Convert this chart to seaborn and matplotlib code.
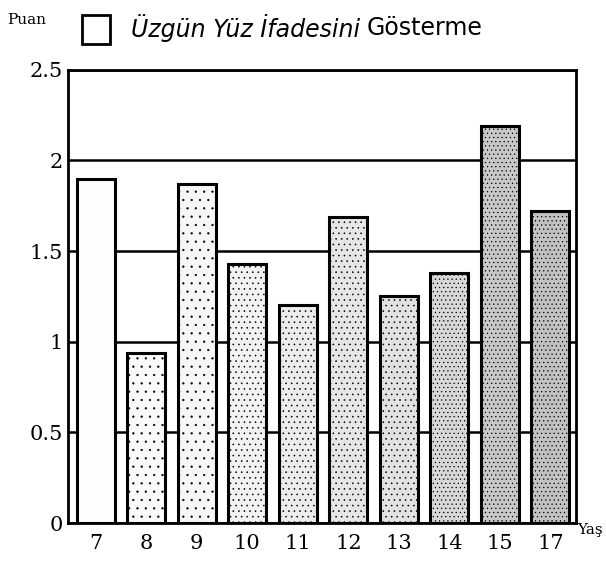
import matplotlib
matplotlib.use("Agg")
import matplotlib.pyplot as plt
import matplotlib.patches as mpatches
import seaborn as sns
import pandas as pd

ages = ['7', '8', '9', '10', '11', '12', '13', '14', '15', '17']
scores = [1.90, 0.94, 1.87, 1.43, 1.20, 1.69, 1.25, 1.38, 2.19, 1.72]
shades = ['#fdfdfd', '#fafafa', '#f6f6f6', '#f2f2f2', '#ececec',
          '#e6e6e6', '#e2e2e2', '#d8d8d8', '#c8c8c8', '#c2c2c2']
hatches = ['', '..', '..', '...', '...', '...', '...', '....', '....', '....']

sns.set_style("white")
plt.rcParams['font.family'] = ['DejaVu Serif']
plt.rcParams['text.color'] = 'black'
plt.rcParams['hatch.linewidth'] = 0.4

data = pd.DataFrame({'age': ages, 'score': scores})

fig = plt.figure(figsize=(6.06, 5.63), dpi=100)
ax = fig.add_axes([0.112, 0.071, 0.838, 0.805])

sns.barplot(data=data, x='age', y='score', order=ages, color='white',
            edgecolor='black', linewidth=2.2, width=0.75, ax=ax, zorder=3)
for bar, fc, h in zip(ax.patches, shades, hatches):
    bar.set_facecolor(fc)
    bar.set_hatch(h)

ax.set_ylim(0, 2.5)
ax.set_xlim(-0.55, 9.5)
ax.set_yticks([0, 0.5, 1, 1.5, 2, 2.5])
ax.set_yticklabels(['0', '0.5', '1', '1.5', '2', '2.5'])
ax.yaxis.grid(True, color='black', linewidth=1.8)
ax.set_axisbelow(True)
for s in ax.spines.values():
    s.set_color('black')
    s.set_linewidth(2)
ax.tick_params(axis='both', length=0, labelsize=15, colors='black')
ax.tick_params(axis='x', pad=8)
ax.set_xlabel('')
ax.set_ylabel('')

fig.text(0.012, 0.958, 'Puan', fontsize=11)
fig.text(0.952, 0.052, 'Yaş', fontsize=11)

handle = mpatches.Patch(facecolor='white', edgecolor='black', linewidth=2)
leg = fig.legend([handle], ['Üzgün Yüz İfadesini'], loc='upper left',
                 bbox_to_anchor=(0.100, 1.012), frameon=False,
                 handlelength=1.2, handleheight=1.5, handletextpad=0.9,
                 labelcolor='black',
                 prop={'family': 'DejaVu Sans', 'style': 'italic', 'size': 17})
fig.canvas.draw()
bb = leg.get_texts()[0].get_window_extent().transformed(fig.transFigure.inverted())
fig.text(bb.x1 + 0.010, bb.y0 + 0.004, 'Gösterme', fontsize=17,
         family='DejaVu Sans', va='bottom')

fig.savefig('out.png', dpi=100)
